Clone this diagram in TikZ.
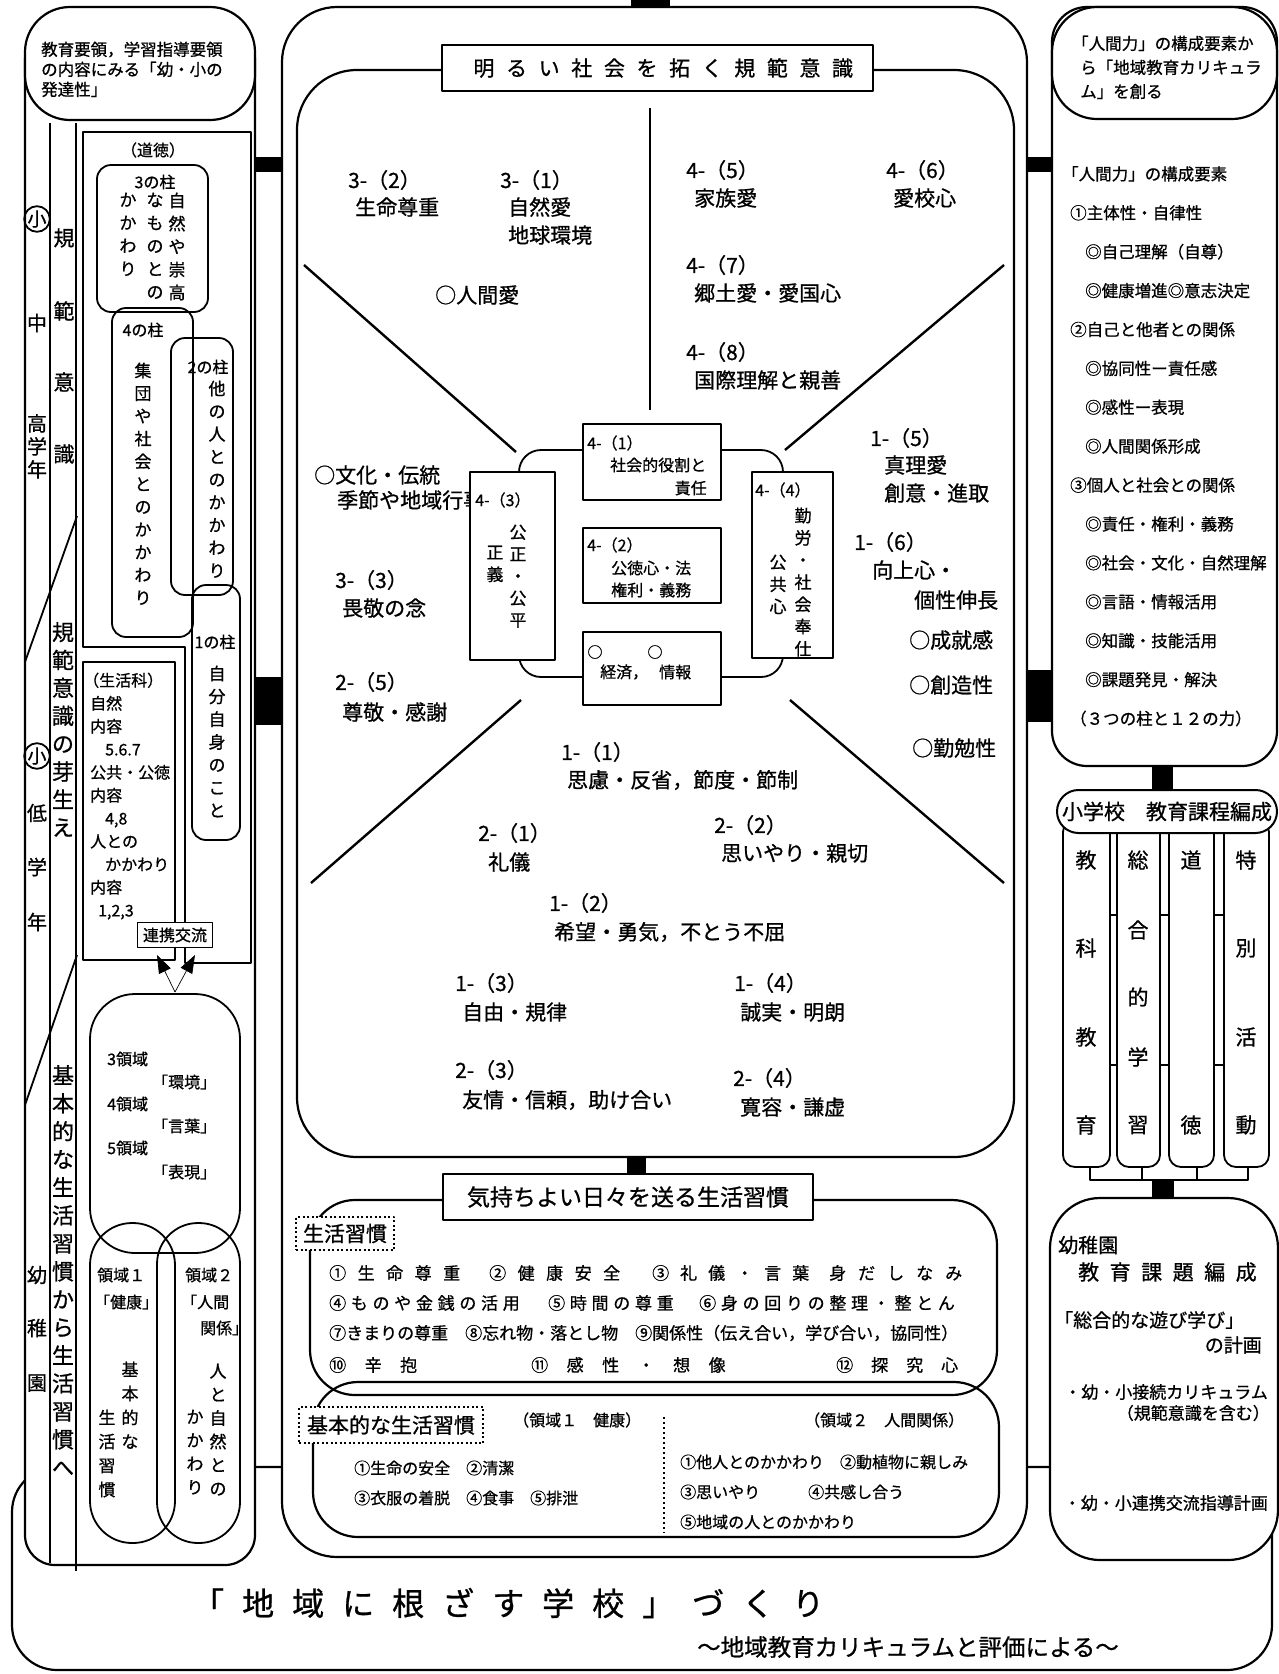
\documentclass[tikz,border=0pt]{standalone}
\usepackage{fontspec}
\setmainfont{Noto Sans CJK JP}[FakeBold=0.8]
\usetikzlibrary{arrows.meta}
\makeatletter
\newcommand\spaced[2]{{\def\sp@skip{\hskip#1\relax}\sp@loop#2\relax}}
\def\sp@loop#1{\ifx\relax#1\else#1\sp@skip\expandafter\sp@loop\fi}
\makeatother
\newcommand\fsz[1]{\fontsize{#1}{#1}\selectfont}
\begin{document}
\begin{tikzpicture}[x=1pt,y=-1pt,line join=round,every node/.style={inner sep=0pt},font=\fsz{21},
  frm/.style={draw,line width=2.2pt},
  ln/.style={draw,line width=1.8pt},
  lab/.style={inner sep=0pt,anchor=west},
  vt/.style 2 args={inner sep=0pt,anchor=north,align=center,font=\fontsize{#1}{#2}\selectfont},
  dotbox/.style={draw,line width=1.6pt,dash pattern=on 2pt off 2.5pt,fill=white},
  box/.style={draw,line width=2pt,fill=white}]
\useasboundingbox (0,0) rectangle (1279,1674);
\fill[white] (0,0) rectangle (1279,1674);

% ===== bottom frame =====
\draw[frm,rounded corners=45pt] (12,1467) rectangle (1272,1670);
\node[lab,font=\fsz{32}] (chiiki) at (192,1603) {\spaced{18pt}{「地域に根ざす学校」づくり}};
\node[lab,font=\fsz{23.5}] (sub) at (697,1647) {～地域教育カリキュラムと評価による～};

% ===== left column =====
\draw[frm,fill=white,rounded corners=30pt] (25,30) rectangle (255,1565);
\draw[frm,fill=white,rounded corners=45pt] (25,7) rectangle (255,120);
\node[anchor=north west,align=left,font=\fontsize{16.5}{20}\selectfont] (lhead) at (41,41.5) {教育要領，学習指導要領\\の内容にみる「幼・小の\\発達性」};
\draw[ln] (50,123) -- (50,1563);
\draw[ln] (76,123) -- (76,1571);
\draw[ln] (77,516) -- (25,662);
\draw[ln] (77,955) -- (25,1105);

\node[draw,circle,line width=1.8pt,minimum size=25pt,font=\fsz{19}] (sho1) at (37,219) {小};
\node[font=\fsz{20}] (chu) at (37,323) {中};
\node[vt={20}{23}] (kogaku) at (37,414) {高\\学\\年};
\node[font=\fsz{21}] (k1) at (64,238) {規};
\node[font=\fsz{21}] (k2) at (64,311) {範};
\node[font=\fsz{21}] (k3) at (64,382) {意};
\node[font=\fsz{21}] (k4) at (64,454) {識};
\node[draw,circle,line width=1.8pt,minimum size=25pt,font=\fsz{19}] (sho2) at (37,756) {小};
\node[font=\fsz{20}] (tei) at (37,813) {低};
\node[font=\fsz{20}] (gaku) at (37,867) {学};
\node[font=\fsz{20}] (nen) at (37,922) {年};
\node[vt={22}{27.9}] (mebae) at (63,622) {規\\範\\意\\識\\の\\芽\\生\\え};
\node[vt={22}{28}] (kihonv) at (63,1065) {基\\本\\的\\な\\生\\活\\習\\慣\\か\\ら\\生\\活\\習\\慣\\へ};
\node[font=\fsz{20}] (yo) at (37,1275) {幼};
\node[font=\fsz{20}] (chi) at (37,1328) {稚};
\node[font=\fsz{20}] (en) at (37,1383) {園};

% moral box
\draw[ln] (83,132) -- (251,132) -- (251,963) -- (185,963) -- (185,647) -- (83,647) -- cycle;
\node[font=\fsz{16}] (dotoku) at (153,150) {（道徳）};
% pillars
\draw[ln,rounded corners=14pt] (97,165) rectangle (208,312);
\draw[ln,rounded corners=14pt] (112,308) rectangle (193,637);
\draw[ln,rounded corners=14pt] (171,338) rectangle (233,595);
\draw[ln,rounded corners=14pt] (192,585) rectangle (240,840);
\node[font=\fsz{16}] (p3) at (155,182) {3の柱};
\node[vt={17}{23}] (p3a) at (177,192.5) {自\\然\\や\\崇\\高};
\node[vt={17}{23}] (p3b) at (155,192.5) {な\\も\\の\\と\\の};
\node[vt={17}{23}] (p3c) at (128,192.5) {か\\か\\わ\\り};
\node[font=\fsz{16}] (p4) at (143,330) {4の柱};
\node[vt={17}{22.7}] (p4a) at (143,362.5) {集\\団\\や\\社\\会\\と\\の\\か\\か\\わ\\り};
\node[font=\fsz{16}] (p2) at (208,367) {2の柱};
\node[vt={17}{22.75}] (p2a) at (217,380.5) {他\\の\\人\\と\\の\\か\\か\\わ\\り};
\node[font=\fsz{16}] (p1) at (215,642) {1の柱};
\node[vt={17}{22.8}] (p1a) at (217,665.5) {自\\分\\自\\身\\の\\こ\\と};

% seikatsuka
\draw[ln] (83,662) rectangle (175,960);
\node[anchor=north west,align=left,font=\fontsize{16}{23}\selectfont] (seikatsu) at (90,672.5) {\hspace*{-7pt}（生活科）\\自然\\内容\\\hspace*{15pt}5.6.7\\公共・公徳\\内容\\\hspace*{15pt}4,8\\人との\\\hspace*{15pt}かかわり\\内容\\\hspace*{8pt}1,2,3};
\node[box,line width=1.8pt,minimum width=75pt,minimum height=25pt,font=\fsz{16}] (renkei) at (175,935) {連携交流};
\coordinate (vb) at (175,992);
\draw[line width=0.7pt,-{Triangle[length=18pt,width=13pt]}] (vb) -- (157,955);
\draw[line width=0.7pt,-{Triangle[length=18pt,width=13pt]}] (vb) -- (195,955);

% kindergarten domains
\draw[ln,rounded corners=45pt] (90,994) rectangle (240,1253);
\node[lab,font=\fsz{16}] (r3) at (107,1059) {3領域};
\node[lab,font=\fsz{16}] (r3b) at (152,1082) {「環境」};
\node[lab,font=\fsz{16}] (r4) at (107,1104) {4領域};
\node[lab,font=\fsz{16}] (r4b) at (152,1126) {「言葉」};
\node[lab,font=\fsz{16}] (r5) at (107,1148) {5領域};
\node[lab,font=\fsz{16}] (r5b) at (152,1172) {「表現」};
\draw[ln,rounded corners=42pt] (90,1223) rectangle (175,1543);
\draw[ln,rounded corners=41pt] (157,1223) rectangle (240,1543);
\node[lab,font=\fsz{16}] (d1) at (97,1275) {領域１};
\node[lab,font=\fsz{16}] (d1b) at (94,1302) {「健康」};
\node[vt={17}{24}] (d1c) at (130,1361.5) {基\\本\\的\\な};
\node[vt={17}{24}] (d1d) at (107,1409.5) {生\\活\\習\\慣};
\node[lab,font=\fsz{16}] (d2) at (185,1275) {領域２};
\node[lab,font=\fsz{16}] (d2b) at (181,1302) {「人間};
\node[lab,font=\fsz{16}] (d2c) at (200,1328) {関係」};
\node[vt={17}{23.5}] (d2d) at (218,1363.5) {人\\と\\自\\然\\と\\の};
\node[vt={17}{23.5}] (d2e) at (195,1409.5) {か\\か\\わ\\り};

% ===== center column =====
\draw[frm,fill=white,rounded corners=55pt] (282,7) rectangle (1027,1557);
\draw[frm,rounded corners=60pt] (297,70) rectangle (1014,1157);
\node[box,minimum width=431pt,minimum height=46pt,font=\fsz{21}] (title1) at (657.5,68) {\hspace*{11.6pt}\spaced{11.6pt}{明るい社会を拓く規範意識}};
\fill (631,0) rectangle (670,7);
\fill (255,157) rectangle (282,172);
\fill (255,677) rectangle (282,725);
\fill (1027,157) rectangle (1052,172);
\fill (1027,670) rectangle (1052,722);
\fill (627,1157) rectangle (646,1174);

\draw[ln] (650,108) -- (650,410);
\draw[line width=2.4pt] (304,265) -- (516,452);
\draw[line width=2.4pt] (1004,265) -- (785,450);
\draw[line width=2.4pt] (521,700) -- (311,883);
\draw[line width=2.4pt] (790,700) -- (1004,883);

\node[lab] (t32) at (348,180) {3-（2）};
\node[lab] (t32b) at (355,207) {生命尊重};
\node[lab] (t31) at (500,180) {3-（1）};
\node[lab] (t31b) at (508,207) {自然愛};
\node[lab] (t31c) at (508,235) {地球環境};
\node[lab] (tnin) at (435,295) {○人間愛};
\node[lab] (t45) at (686,170) {4-（5）};
\node[lab] (t45b) at (694,198) {家族愛};
\node[lab] (t46) at (886,170) {4-（6）};
\node[lab] (t46b) at (893,198) {愛校心};
\node[lab] (t47) at (686,265) {4-（7）};
\node[lab] (t47b) at (694,293) {郷土愛・愛国心};
\node[lab] (t48) at (686,352) {4-（8）};
\node[lab] (t48b) at (694,380) {国際理解と親善};
\node[lab] (tbun) at (314,475) {○文化・伝統};
\node[lab] (tbun2) at (337,500) {季節や地域行事};
\node[lab] (t33) at (335,580) {3-（3）};
\node[lab] (t33b) at (342,608) {畏敬の念};
\node[lab] (t25) at (335,682) {2-（5）};
\node[lab] (t25b) at (342,712) {尊敬・感謝};
\node[lab] (t15) at (870,438) {1-（5）};
\node[lab] (t15b) at (884,465) {真理愛};
\node[lab] (t15c) at (884,493) {創意・進取};
\node[lab] (t16) at (854,542) {1-（6）};
\node[lab] (t16b) at (872,570) {向上心・};
\node[lab] (t16c) at (914,600) {個性伸長};
\node[lab] (tjo) at (909,640) {○成就感};
\node[lab] (tso) at (909,685) {○創造性};
\node[lab] (tkin) at (912,748) {○勤勉性};
\node[lab] (t11) at (561,752) {1-（1）};
\node[lab] (t11b) at (567,780) {思慮・反省，節度・節制};
\node[lab] (t21) at (478,833) {2-（1）};
\node[lab] (t21b) at (488,862) {礼儀};
\node[lab] (t22) at (714,825) {2-（2）};
\node[lab] (t22b) at (721,853) {思いやり・親切};
\node[lab] (t12) at (549,903) {1-（2）};
\node[lab] (t12b) at (554,932) {希望・勇気，不とう不屈};
\node[lab] (t13) at (455,983) {1-（3）};
\node[lab] (t13b) at (462,1012) {自由・規律};
\node[lab] (t14) at (734,983) {1-（4）};
\node[lab] (t14b) at (740,1012) {誠実・明朗};
\node[lab] (t23) at (455,1070) {2-（3）};
\node[lab] (t23b) at (462,1100) {友情・信頼，助け合い};
\node[lab] (t24) at (733,1078) {2-（4）};
\node[lab] (t24b) at (740,1107) {寛容・謙虚};

% central diagram
\draw[ln,rounded corners=22pt] (519,450) rectangle (783,677);
\draw[box] (583,424) rectangle (721,500);
\node[lab,font=\fsz{16}] (b41) at (587,443) {4-（1）};
\node[lab,font=\fsz{16}] (b41b) at (610,465) {社会的役割と};
\node[anchor=east,font=\fsz{16}] (b41c) at (707,488) {責任};
\draw[box] (583,528) rectangle (721,603);
\node[lab,font=\fsz{16}] (b42) at (587,545) {4-（2）};
\node[lab,font=\fsz{16}] (b42b) at (611,568) {公徳心・法};
\node[lab,font=\fsz{16}] (b42c) at (611,590) {権利・義務};
\draw[box] (583,632) rectangle (721,705);
\node[font=\fsz{15}] (o1) at (595,652) {○};
\node[font=\fsz{15}] (o2) at (655,652) {○};
\node[lab,font=\fsz{16}] (keizai) at (600,672) {経済，};
\node[lab,font=\fsz{16}] (joho) at (659,672) {情報};
\draw[box] (470,472) rectangle (555,660);
\node[lab,font=\fsz{16}] (b43) at (475,500) {4-（3）};
\node[vt={17}{22}] (b43a) at (518,524.5) {公\\正\\・\\公\\平};
\node[vt={17}{22}] (b43b) at (495,545.5) {正\\義};
\draw[box] (752,472) rectangle (833,658);
\node[lab,font=\fsz{16}] (b44) at (755,490) {4-（4）};
\node[vt={17}{22.2}] (b44a) at (803,507.5) {勤\\労\\・\\社\\会\\奉\\仕};
\node[vt={17}{22.2}] (b44b) at (778,554.5) {公\\共\\心};

% lower part
\draw[frm,rounded corners=45pt] (310,1200) rectangle (997,1395);
\draw[frm,rounded corners=45pt] (313,1382) rectangle (999,1537);
\node[box,minimum width=370pt,minimum height=46pt,font=\fsz{23}] (title2) at (628,1197) {気持ちよい日々を送る生活習慣};
\node[dotbox,minimum width=98pt,minimum height=33pt,font=\fsz{21}] (seik) at (345,1233.5) {生活習慣};
\node[lab,font=\fsz{17}] (h1) at (329,1273) {\spaced{11.5pt}{①生命尊重}};
\node[lab,font=\fsz{17}] (h2) at (489,1273) {\spaced{11.5pt}{②健康安全}};
\node[lab,font=\fsz{17}] (h3) at (652,1273) {\spaced{11pt}{③礼儀・言葉}};
\node[lab,font=\fsz{17}] (h3b) at (829,1273) {\spaced{12pt}{身だしなみ}};
\node[lab,font=\fsz{17}] (h4) at (329,1303) {\spaced{4.7pt}{④ものや金銭の活用}};
\node[lab,font=\fsz{17}] (h5) at (548,1303) {\spaced{4.7pt}{⑤時間の尊重}};
\node[lab,font=\fsz{17}] (h6) at (699,1303) {\spaced{4.7pt}{⑥身の回りの整理・整とん}};
\node[lab,font=\fsz{17}] (h7) at (329,1333) {⑦きまりの尊重　⑧忘れ物・落とし物　⑨関係性（伝え合い，学び合い，協同性）};
\node[lab,font=\fsz{17}] (h10) at (329,1365) {\spaced{18.5pt}{⑩辛抱}};
\node[lab,font=\fsz{17}] (h11) at (531,1365) {\spaced{18.5pt}{⑪感性・想像}};
\node[lab,font=\fsz{17}] (h12) at (836,1365) {\spaced{18pt}{⑫探究心}};

\node[dotbox,minimum width=184pt,minimum height=36pt,font=\fsz{21}] (kihon) at (391,1425) {基本的な生活習慣};
\node[lab,font=\fsz{16}] (ry1) at (513,1420) {（領域１　健康）};
\node[lab,font=\fsz{16}] (ry2) at (804,1420) {（領域２　人間関係）};
\draw[line width=1.2pt,dash pattern=on 2pt off 3pt] (664,1417) -- (664,1533);
\node[lab,font=\fsz{16}] (k1l) at (354,1468) {①生命の安全　②清潔};
\node[lab,font=\fsz{16}] (k2l) at (354,1498) {③衣服の着脱　④食事　⑤排泄};
\node[lab,font=\fsz{16}] (n1l) at (680,1462) {①他人とのかかわり　②動植物に親しみ};
\node[lab,font=\fsz{16}] (n2l) at (680,1492) {③思いやり　　　④共感し合う};
\node[lab,font=\fsz{16}] (n3l) at (680,1522) {⑤地域の人とのかかわり};

% ===== right column =====
\draw[frm,fill=white,rounded corners=35pt] (1052,7) rectangle (1277,766);
\draw[frm,fill=white,rounded corners=45pt] (1052,7) rectangle (1277,119);
\node[anchor=north west,align=left,font=\fontsize{16.5}{24}\selectfont] (rhead) at (1080,35.5) {\hspace*{-8pt}「人間力」の構成要素か\\ら「地域教育カリキュラ\\ム」を創る};
\node[anchor=north west,align=left,font=\fontsize{16.5}{38.9}\selectfont] (rbody) at (1070,166) {\hspace*{-8pt}「人間力」の構成要素\\①主体性・自律性\\\hspace*{15pt}◎自己理解（自尊）\\\hspace*{15pt}◎健康増進◎意志決定\\②自己と他者との関係\\\hspace*{15pt}◎協同性ー責任感\\\hspace*{15pt}◎感性ー表現\\\hspace*{15pt}◎人間関係形成\\③個人と社会との関係\\\hspace*{15pt}◎責任・権利・義務\\\hspace*{15pt}◎社会・文化・自然理解\\\hspace*{15pt}◎言語・情報活用\\\hspace*{15pt}◎知識・技能活用\\\hspace*{15pt}◎課題発見・解決\\（３つの柱と１２の力）};
\fill (1152,766) rectangle (1173,790);

% curriculum columns
\draw[ln,rounded corners=12pt] (1063,820) rectangle (1110,1167);
\draw[ln,rounded corners=12pt] (1117,820) rectangle (1160,1167);
\draw[ln,rounded corners=12pt] (1169,820) rectangle (1214,1167);
\draw[ln,rounded corners=12pt] (1224,820) rectangle (1269,1167);
\foreach \yy in {915,1065}{
  \draw[ln] (1110,\yy) -- (1117,\yy);
  \draw[ln] (1160,\yy) -- (1169,\yy);
  \draw[ln] (1214,\yy) -- (1224,\yy);
}
\node[box,rounded corners=21.5pt,minimum width=220pt,minimum height=43pt,font=\fsz{21}] (shogakko) at (1167,811.5) {小学校　教育課程編成};
\node (c1a) at (1086,860) {教};
\node (c1b) at (1086,948) {科};
\node (c1c) at (1086,1037) {教};
\node (c1d) at (1086,1125) {育};
\node (c2a) at (1138,860) {総};
\node (c2b) at (1138,930) {合};
\node (c2c) at (1138,997) {的};
\node (c2d) at (1138,1057) {学};
\node (c2e) at (1138,1125) {習};
\node (c3a) at (1191,860) {道};
\node (c3b) at (1191,1125) {徳};
\node (c4a) at (1246,860) {特};
\node (c4b) at (1246,948) {別};
\node (c4c) at (1246,1037) {活};
\node (c4d) at (1246,1125) {動};
\draw[ln] (1090,1167) -- (1090,1180) -- (1248,1180) -- (1248,1167);
\draw[ln] (1142,1167) -- (1142,1180);
\draw[ln] (1197,1167) -- (1197,1180);
\fill (1152,1180) rectangle (1174,1198);

% kindergarten box
\draw[frm,fill=white,rounded corners=50pt] (1050,1198) rectangle (1278,1560);
\node[lab,font=\fsz{20}] (kyo) at (1058,1245) {幼稚園};
\node[lab,font=\fsz{21}] (kkhen) at (1078,1272) {\spaced{10.5pt}{教育課題編成}};
\node[lab,font=\fsz{19}] (asobi) at (1054,1320) {「総合的な遊び学び」};
\node[anchor=east,font=\fsz{19}] (keikaku) at (1262,1345) {の計画};
\node[anchor=east,font=\fsz{17}] (setsu) at (1268,1392) {・幼・小接続カリキュラム};
\node[anchor=east,font=\fsz{17}] (kihanf) at (1270,1413) {（規範意識を含む）};
\node[anchor=east,font=\fsz{17}] (renk) at (1268,1503) {・幼・小連携交流指導計画};
\end{tikzpicture}
\end{document}
